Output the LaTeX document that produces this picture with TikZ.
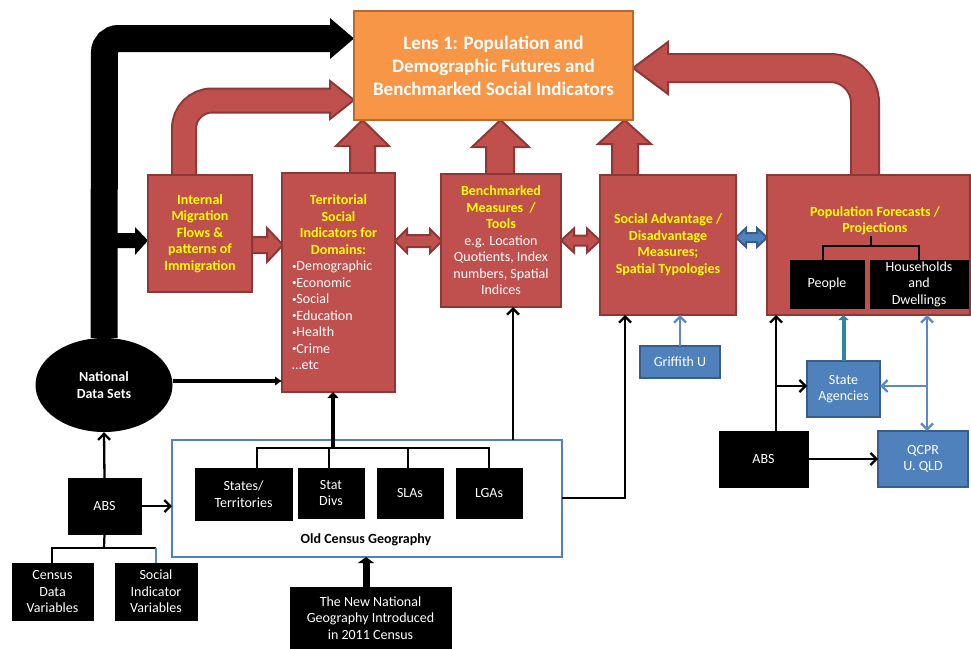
\documentclass[tikz,border=0pt]{standalone}
\usepackage{fontspec}
\setmainfont{Carlito}
\usetikzlibrary{arrows.meta,calc,shapes.geometric}
\definecolor{redf}{HTML}{C0504D}
\definecolor{redd}{HTML}{8C3836}
\definecolor{orf}{HTML}{F79646}
\definecolor{ord}{HTML}{B96A2E}
\definecolor{yel}{HTML}{FFFF00}
\definecolor{bluf}{HTML}{4F81BD}
\definecolor{blud}{HTML}{385D8A}
\definecolor{blul}{HTML}{5A8AC6}
\definecolor{tealc}{HTML}{31859C}
\newcommand{\ybtxt}[1]{{\color{yel}\bfseries #1}}
\newcommand{\bul}{\raisebox{1.5pt}{\fontsize{9}{9}\selectfont•}}
\pgfdeclarelayer{bg}
\pgfsetlayers{bg,main}
\begin{document}
\begin{tikzpicture}[x=1pt,y=-1pt,
  box/.style={anchor=north west,inner sep=0pt,outer sep=0pt,font=\fontsize{14}{16.5}\selectfont},
  redbox/.style={box,fill=redf,draw=redd,line width=2pt,align=center},
  blkbox/.style={box,fill=black,draw=black,text=white,align=center},
  blubox/.style={box,fill=bluf,draw=blud,line width=2pt,text=white,align=center},
  ytxt/.style={text=yel,font=\fontsize{14}{16.5}\selectfont\bfseries},
  blockarr/.style={fill=redf,draw=redd,line width=2pt,line join=miter},
  conn/.style={line width=2.3pt,-{Straight Barb[length=6pt,width=12pt]}},
  bconn/.style={conn,blul},
]
\useasboundingbox (0,0) rectangle (971,648);

% ---------- main boxes ----------
\node[box,fill=orf,draw=ord,line width=2pt,minimum width=279pt,minimum height=109pt,
  text=white,align=center,font=\fontsize{19}{23}\selectfont\bfseries] (lens) at (354,11)
  {Lens 1: Population and\\Demographic Futures and\\Benchmarked Social Indicators};

\node[redbox,minimum width=104pt,minimum height=117pt,text=yel,font=\fontsize{14}{16.5}\selectfont\bfseries] (mig) at (148,175)
  {Internal\\Migration\\Flows \&\\patterns of\\Immigration};

\node[redbox,minimum width=113pt,minimum height=219pt,text width=93pt,align=none,text=white] (terr) at (282,173)
  {{\centering\color{yel}\bfseries Territorial\\Social\\Indicators for\\Domains:\par}%
   \raggedright \bul Demographic\\\bul Economic\\\bul Social\\\bul Education\\\bul Health\\\bul Crime\\…etc\par};

\node[redbox,minimum width=120pt,minimum height=133pt,text=white] (bench) at (441,174)
  {\ybtxt{Benchmarked}\\\ybtxt{Measures\ \ /}\\\ybtxt{Tools}\\e.g. Location\\Quotients, Index\\numbers, Spatial\\Indices};

\node[redbox,minimum width=136pt,minimum height=140pt,text=yel,font=\fontsize{14}{16.5}\selectfont\bfseries] (soc) at (600,175)
  {Social Advantage /\\Disadvantage\\Measures;\\Spatial Typologies};

\node[redbox,minimum width=203pt,minimum height=140pt] (pop) at (767,175) {};
\node[ytxt,align=center,inner sep=0pt] (popt) at (875,221) {Population Forecasts /\\Projections};
\node[blkbox,minimum width=74pt,minimum height=48pt] (people) at (790,260) {People};
\node[blkbox,minimum width=98pt,minimum height=48pt] (hh) at (870,260) {Households\\and\\Dwellings};

% ---------- lower left ----------
\node[ellipse,fill=black,minimum width=137pt,minimum height=94pt,inner sep=0pt,text=white,align=center,
  font=\fontsize{14}{16.5}\selectfont\bfseries] (nds) at (104,385) {National\\Data Sets};
\node[blkbox,minimum width=73pt,minimum height=56pt] (absl) at (68,478) {ABS};
\node[blkbox,minimum width=81pt,minimum height=57pt] (cens) at (12,563) {Census\\Data\\Variables};
\node[blkbox,minimum width=82pt,minimum height=57pt] (sind) at (115,563) {Social\\Indicator\\Variables};

\node[box,fill=white,draw=bluf,line width=2pt,minimum width=390pt,minimum height=117pt] (old) at (172,440) {};
\node[font=\fontsize{14}{16.5}\selectfont\bfseries,inner sep=0pt] (oldt) at (366,540) {Old Census Geography};
\node[blkbox,minimum width=97pt,minimum height=52pt] (st) at (195,468) {States/\\Territories};
\node[blkbox,minimum width=66pt,minimum height=50pt] (sd) at (298,468) {Stat\\Divs};
\node[blkbox,minimum width=66pt,minimum height=50pt] (sla) at (377,468) {SLAs};
\node[blkbox,minimum width=66pt,minimum height=50pt] (lga) at (456,468) {LGAs};

\node[blkbox,minimum width=161pt,minimum height=62pt,anchor=north west,align=center] (ng) at (290,587)
  {The New National\\Geography Introduced\\in 2011 Census};

% ---------- lower right ----------
\node[blubox,minimum width=80pt,minimum height=32pt] (gu) at (640,346) {Griffith U};
\node[blubox,minimum width=73pt,minimum height=56pt] (sa) at (807,361) {State\\Agencies};
\node[blubox,minimum width=90pt,minimum height=56pt] (qc) at (878,431) {QCPR\\U. QLD};
\node[blkbox,minimum width=89pt,minimum height=56pt] (absr) at (719,431) {ABS};

% ---------- background block arrows ----------
\begin{pgfonlayer}{bg}
  % big black arrow
  \draw[line width=27pt,rounded corners=14pt] (nds.north) -- (104.5,38.5) -- (332,38.5);
  \fill (330,18) -- (354,38.5) -- (330,59) -- cycle;
  \fill (110,233) -- (135,233) -- (135,227) -- (148,240.5) -- (135,255) -- (135,248) -- (110,248) -- cycle;
  % curved red arrow from migration
  \filldraw[blockarr] (330,81) -- (354,100) -- (330,119) -- cycle;
  \draw[redd,line width=26pt,rounded corners=28pt] (184,175) -- (184,100.5) -- (330,100.5);
  \draw[redf,line width=22pt,rounded corners=28pt] (184,177) -- (184,100.5) -- (333,100.5);
  % curved red arrow from population forecasts
  \filldraw[blockarr] (668,42) -- (633,68) -- (668,94) -- cycle;
  \draw[redd,line width=30pt,rounded corners=35pt] (865,175) -- (865,68) -- (668,68);
  \draw[redf,line width=26pt,rounded corners=35pt] (865,177) -- (865,68) -- (665,68);
  % up arrows
  \filldraw[blockarr] (350,173) -- (350,146) -- (336,146) -- (362.5,120) -- (389,146) -- (375,146) -- (375,173) -- cycle;
  \filldraw[blockarr] (486,174) -- (486,147) -- (472,147) -- (500.5,120) -- (529,147) -- (514,147) -- (514,174) -- cycle;
  \filldraw[blockarr] (612,175) -- (612,144) -- (598,144) -- (624.5,120) -- (651,144) -- (638,144) -- (638,175) -- cycle;
  % right arrow migration -> territorial
  \filldraw[blockarr] (252,237) -- (267,237) -- (267,228) -- (283,245) -- (267,262) -- (267,253) -- (252,253) -- cycle;
  % double arrows
  \filldraw[blockarr] (395,241) -- (407,229) -- (407,235) -- (430,235) -- (430,229) -- (442,241) -- (430,253) -- (430,247) -- (407,247) -- (407,253) -- cycle;
  \filldraw[blockarr] (561,240.5) -- (574,228.5) -- (574,235.5) -- (587,235.5) -- (587,228.5) -- (600,240.5) -- (587,252.5) -- (587,245.5) -- (574,245.5) -- (574,252.5) -- cycle;
  \filldraw[fill=bluf,draw=blud,line width=2pt] (736,237.5) -- (746,228) -- (746,233) -- (757,233) -- (757,228) -- (767,237.5) -- (757,247) -- (757,242) -- (746,242) -- (746,247) -- cycle;
\end{pgfonlayer}

% ---------- connectors ----------
% population tree
\coordinate (pt) at (871,246);
\draw[line width=1.3pt] (871,236) -- (pt);
\draw[line width=1.3pt] (823,260) -- (823,246) -- (919,246) -- (919,260);

% national data sets -> territorial
\coordinate (n381) at (0,381);
\draw[line width=3.5pt,-{Latex[length=7pt,width=10pt]}] (nds.east |- n381) -- (terr.west |- n381);
% ABS left
\draw[conn] (absl.north) -- (nds.south);
\draw[conn] (absl.east) -- (absl.east -| old.west);
\coordinate (at) at (104,548);
\coordinate (atl) at (52,548);
\coordinate (atr) at (156,548);
\draw[line width=2.2pt] (absl.south) -- (at);
\draw[line width=2.2pt] (at) -- (atl) -- (atl |- cens.north);
\draw[line width=2.2pt] (at) -- (atr);
\draw[blul,line width=1.2pt] (atr) -- (atr |- sind.north);

% old census tree
\coordinate (ot) at (333,448);
\draw[line width=2.5pt] (257,468) -- (257,448) -- (489,448) -- (489,468);
\draw[line width=2.5pt] (329,448) -- (329,468);
\draw[line width=2.5pt] (408,448) -- (408,468);
\draw[line width=4pt,-{Triangle[length=6pt,width=11pt]}] (ot) -- (ot |- terr.south);
% new geography -> old census
\coordinate (x366) at (366,0);
\draw[line width=7pt,-{Triangle[length=6pt,width=16pt]}] (ng.north -| x366) -- (old.south -| x366);
% old census -> benchmarked
\coordinate (x513) at (513,0);
\draw[conn] (old.north -| x513) -- (bench.south -| x513);
% old census -> social advantage
\coordinate (oc) at (625,498);
\draw[conn] (old.east |- oc) -- (oc) -- (oc |- soc.south);
% Griffith -> social advantage
\draw[bconn] (gu.north) -- (gu.north |- soc.south);
% State agencies -> pop
\draw[tealc,line width=4pt,-{Triangle[length=5pt,width=10pt]}] (sa.north) -- (sa.north |- pop.south);
% ABS right
\coordinate (ar) at (776,431);
\coordinate (arb) at (776,386);
\draw[conn] (ar) -- (ar |- pop.south);
\draw[conn] (arb) -- (arb -| sa.west);
\draw[conn] (absr.east) -- (absr.east -| qc.west);
% QCPR <-> pop
\coordinate (qx) at (927,386);
\draw[blul,line width=2.3pt,{Straight Barb[length=6pt,width=12pt]}-{Straight Barb[length=6pt,width=12pt]}] (qx |- qc.north) -- (qx |- pop.south);
\draw[bconn] (qx) -- (qx -| sa.east);
\end{tikzpicture}
\end{document}
